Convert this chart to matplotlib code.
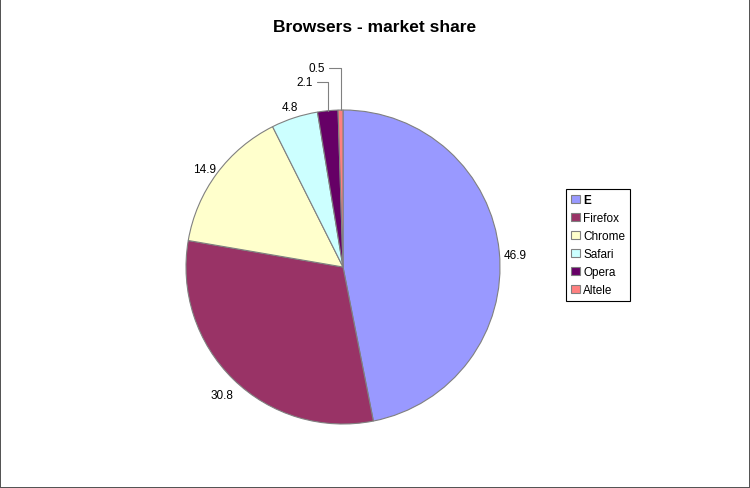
import numpy as np
import matplotlib
matplotlib.use("Agg")
import matplotlib.pyplot as plt

plt.rcParams['font.family'] = ['Liberation Sans', 'DejaVu Sans']

browsers = ["E", "Firefox", "Chrome", "Safari", "Opera", "Altele"]
share = [46.9, 30.8, 14.9, 4.8, 2.1, 0.5]
colors = ["#9999FF", "#993366", "#FFFFCC", "#CCFFFF", "#660066", "#FF8080"]

fig = plt.figure(figsize=(7.5, 4.89), dpi=100, edgecolor="#555555", linewidth=1.2)
L = 1.35
w = 2 * L * 157 / 750
h = 2 * L * 157 / 489
ax = fig.add_axes([343 / 750 - w / 2, 221 / 489 - h / 2, w, h])

wedges, _ = ax.pie(share, colors=colors, startangle=90, counterclock=False,
                   wedgeprops=dict(edgecolor="#808080", linewidth=0.8))
ax.set_xlim(-L, L)
ax.set_ylim(-L, L)
ax.set_aspect("equal")
ax.axis("off")

small = 0
for wd, v in zip(wedges, share):
    mid = np.deg2rad((wd.theta1 + wd.theta2) / 2)
    x, y = np.cos(mid), np.sin(mid)
    if v < 3:
        ax.annotate("%.1f" % v, xy=(x, y), xytext=(x - 0.15, 1.18 + 0.09 * small),
                    ha="center", va="center", fontsize=8.5,
                    arrowprops=dict(arrowstyle="-", color="#808080", lw=0.8,
                                    connectionstyle="angle,angleA=0,angleB=90,rad=0",
                                    shrinkA=1, shrinkB=0))
        small += 1
    else:
        ax.text(1.1 * x, 1.1 * y - 0.03, "%.1f" % v, ha="center", va="center", fontsize=8.5)

fig.text(0.5, 1 - 28 / 489, "Browsers - market share", ha="center", va="center",
         fontsize=12.5, fontweight="bold")

leg = fig.legend(wedges, browsers, loc="upper left", bbox_to_anchor=(566 / 750, 1 - 190 / 489),
                 fontsize=8.5, handlelength=0.7, handleheight=0.7, handletextpad=0.3,
                 labelspacing=0.5, borderpad=0.45, borderaxespad=0, fancybox=False,
                 edgecolor="black", framealpha=1)
leg.get_frame().set_linewidth(0.8)
leg.get_texts()[0].set_fontweight("bold")

fig.savefig("out.png", dpi=100)
